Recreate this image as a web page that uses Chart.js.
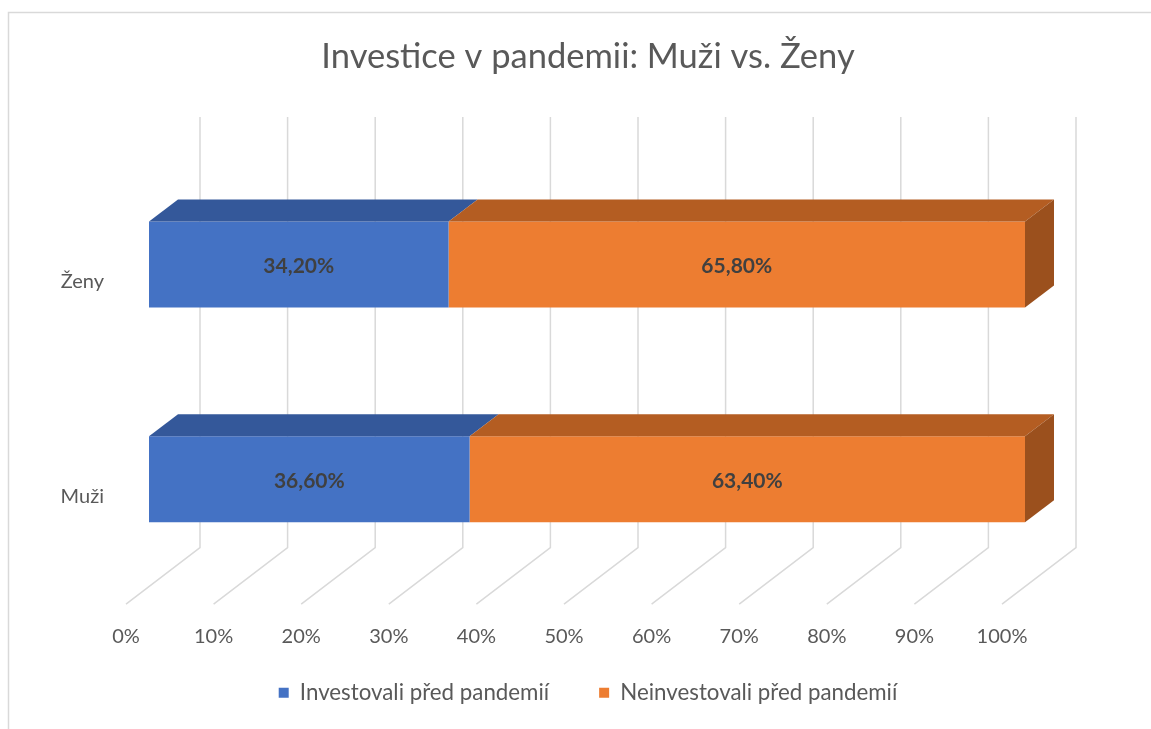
<!DOCTYPE html>
<html>
<head>
<meta charset="utf-8">
<title>Investice v pandemii</title>
<script src="https://cdn.jsdelivr.net/npm/chart.js@4.4.1/dist/chart.umd.min.js"></script>
<style>
  html, body { margin: 0; padding: 0; background: #fff; }
  canvas { display: block; }
</style>
</head>
<body>
<canvas id="chart" width="1151" height="729"></canvas>
<script>
// data
const categories = ['Ženy', 'Muži'];
const investovali = [34.2, 36.6];
const neinvestovali = [65.8, 63.4];
const seriesNames = ['Investovali před pandemií', 'Neinvestovali před pandemií'];
const tickStep = 10;

const fontFamily = "'Lato', 'Open Sans', sans-serif";
Chart.defaults.font.family = fontFamily;
const textColor = '#595959';
const gridColor = '#d9d9d9';

const colors = {
    blue: '#4472c4',
    blueTop: '#34589a',
    orange: '#ed7d31',
    orangeTop: '#b45d22',
    orangeSide: '#9b501d'
};
const topColors = [colors.blueTop, colors.orangeTop];

// 3D posuny (px)
const barDepth = { dx: 29, dy: -22 };
const wall = { dx: 51, dy: -39 };
const floorFront = { dx: -23, dy: 17.5 };

const fmt = v => v.toFixed(2).replace('.', ',') + '%';

// rámeček, mřížka v perspektivě, popisky osy x, horní a boční stěny sloupců
const bar3d = {
    id: 'bar3d',
    beforeDraw(chart) {
        const ctx = chart.ctx;
        ctx.save();
        ctx.strokeStyle = gridColor;
        ctx.lineWidth = 1.5;
        ctx.strokeRect(8.5, 12.5, chart.width, chart.height);
        ctx.restore();
    },
    beforeDatasetsDraw(chart) {
        const { ctx, chartArea, scales: { x } } = chart;
        ctx.save();
        ctx.strokeStyle = gridColor;
        ctx.lineWidth = 1.5;
        ctx.fillStyle = textColor;
        ctx.font = '20px ' + fontFamily;
        ctx.textAlign = 'center';
        ctx.textBaseline = 'middle';
        x.ticks.forEach(t => {
            const px = x.getPixelForValue(t.value);
            ctx.beginPath();
            ctx.moveTo(px + wall.dx, chartArea.top - 40);
            ctx.lineTo(px + wall.dx, chartArea.bottom + wall.dy);
            ctx.lineTo(px + floorFront.dx, chartArea.bottom + floorFront.dy);
            ctx.stroke();
            ctx.fillText(t.label, px + floorFront.dx, chartArea.bottom + 50);
        });
        ctx.restore();
    },
    afterDatasetsDraw(chart) {
        const ctx = chart.ctx;
        const last = chart.data.datasets.length - 1;
        ctx.save();
        chart.data.datasets.forEach((ds, d) => {
            const meta = chart.getDatasetMeta(d);
            meta.data.forEach((el, i) => {
                const p = el.getProps(['x', 'base', 'y', 'height'], true);
                const left = Math.min(p.x, p.base);
                const right = Math.max(p.x, p.base);
                const top = p.y - p.height / 2;
                const bottom = p.y + p.height / 2;

                // horní stěna
                ctx.fillStyle = topColors[d];
                ctx.beginPath();
                ctx.moveTo(left, top);
                ctx.lineTo(right, top);
                ctx.lineTo(right + barDepth.dx, top + barDepth.dy);
                ctx.lineTo(left + barDepth.dx, top + barDepth.dy);
                ctx.closePath();
                ctx.fill();

                // boční stěna
                if (d === last) {
                    ctx.fillStyle = colors.orangeSide;
                    ctx.beginPath();
                    ctx.moveTo(right, top);
                    ctx.lineTo(right + barDepth.dx, top + barDepth.dy);
                    ctx.lineTo(right + barDepth.dx, bottom + barDepth.dy);
                    ctx.lineTo(right, bottom);
                    ctx.closePath();
                    ctx.fill();
                }

                // popisek hodnoty
                ctx.fillStyle = '#404040';
                ctx.font = 'bold 21px ' + fontFamily;
                ctx.textAlign = 'center';
                ctx.textBaseline = 'middle';
                ctx.fillText(fmt(ds.data[i]), (left + right) / 2, p.y + 2);
            });
        });
        ctx.restore();
    }
};

new Chart(document.getElementById('chart'), {
    type: 'bar',
    data: {
        labels: categories,
        datasets: [
            {
                label: seriesNames[0],
                data: investovali,
                backgroundColor: colors.blue,
                categoryPercentage: 1,
                barPercentage: 0.4
            },
            {
                label: seriesNames[1],
                data: neinvestovali,
                backgroundColor: colors.orange,
                categoryPercentage: 1,
                barPercentage: 0.4
            }
        ]
    },
    options: {
        indexAxis: 'y',
        responsive: false,
        animation: false,
        layout: {
            padding: { left: 25, right: 0, top: 0, bottom: 15 }
        },
        scales: {
            x: {
                stacked: true,
                min: 0,
                max: 100,
                grid: { display: false, drawTicks: false },
                border: { display: false },
                ticks: {
                    stepSize: tickStep,
                    autoSkip: false,
                    maxRotation: 0,
                    display: false,
                    callback: v => v + '%'
                },
                afterFit: s => { s.height = 45; }
            },
            y: {
                stacked: true,
                grid: { display: false, drawTicks: false },
                border: { display: false },
                ticks: {
                    labelOffset: 17,
                    padding: 45,
                    color: textColor,
                    font: { size: 20 }
                },
                afterFit: s => { s.width = 124; }
            },
            yr: {
                type: 'linear',
                axis: 'y',
                position: 'right',
                grid: { display: false, drawTicks: false },
                border: { display: false },
                ticks: { display: false },
                afterFit: s => { s.width = 126; }
            }
        },
        plugins: {
            title: {
                display: true,
                text: 'Investice v pandemii: Muži vs. Ženy',
                color: textColor,
                font: { size: 34.5, weight: 'normal' },
                padding: { top: 36.3, bottom: 79.3 }
            },
            legend: {
                position: 'bottom',
                labels: {
                    boxWidth: 10,
                    boxHeight: 10,
                    padding: 50,
                    color: textColor,
                    font: { size: 22.3 }
                }
            },
            tooltip: { enabled: false }
        }
    },
    plugins: [bar3d]
});
</script>
</body>
</html>
